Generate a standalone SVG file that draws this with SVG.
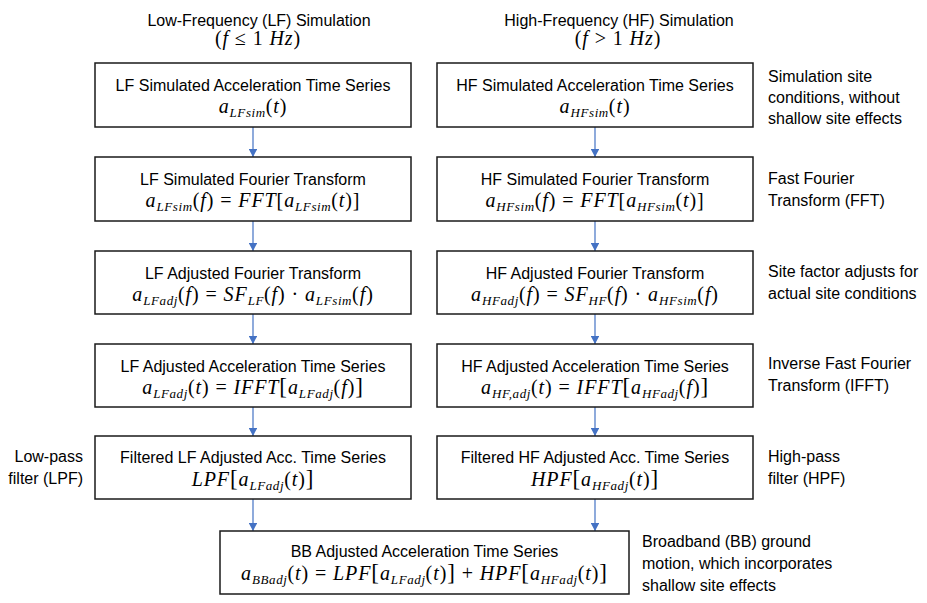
<svg xmlns="http://www.w3.org/2000/svg" width="927" height="603" viewBox="0 0 927 603">
<style>
.t{font-family:"Liberation Sans",Arial,sans-serif;font-size:16px;fill:#000}
.m{font-family:"Liberation Serif","Times New Roman",serif;font-size:20px;font-style:italic;letter-spacing:0.9px;fill:#000}
.u{font-style:normal}
.s{font-size:13px;letter-spacing:0.6px}
.b{font-size:23px;font-style:normal}
.box{fill:#fff;stroke:#1a1a1a;stroke-width:1.5}
.c{stroke:#4472C4;stroke-width:1.2;fill:none;marker-end:url(#ah)}
</style>
<defs>
<marker id="ah" viewBox="0 0 10 10" refX="10" refY="5" markerWidth="8" markerHeight="8.5" markerUnits="userSpaceOnUse" orient="auto" preserveAspectRatio="none">
<path d="M0,0 L10,5 L0,10 Z" fill="#4472C4"/>
</marker>
</defs>
<rect width="927" height="603" fill="#fff"/>

<g id="headers">
<text class="t" x="259" y="26" text-anchor="middle">Low-Frequency (LF) Simulation</text>
<text class="m" x="258" y="45" text-anchor="middle"><tspan class="u">(</tspan>f<tspan class="u"> ≤ 1 </tspan>Hz<tspan class="u">)</tspan></text>
<text class="t" x="619" y="26" text-anchor="middle">High-Frequency (HF) Simulation</text>
<text class="m" x="618" y="45" text-anchor="middle"><tspan class="u">(</tspan>f<tspan class="u"> &gt; 1 </tspan>Hz<tspan class="u">)</tspan></text>
</g>

<g id="connectors">
<line class="c" x1="253" y1="127" x2="253" y2="157"/>
<line class="c" x1="253" y1="221" x2="253" y2="251"/>
<line class="c" x1="253" y1="314" x2="253" y2="344"/>
<line class="c" x1="253" y1="407" x2="253" y2="436"/>
<line class="c" x1="253" y1="499" x2="253" y2="531"/>
<line class="c" x1="595" y1="127" x2="595" y2="157"/>
<line class="c" x1="595" y1="221" x2="595" y2="251"/>
<line class="c" x1="595" y1="314" x2="595" y2="344"/>
<line class="c" x1="595" y1="407" x2="595" y2="436"/>
<line class="c" x1="595" y1="499" x2="595" y2="531"/>
</g>

<g id="lf1">
<rect class="box" x="95" y="63" width="316" height="64"/>
<text class="t" x="253" y="91" text-anchor="middle">LF Simulated Acceleration Time Series</text>
<text class="m" x="253" y="113" text-anchor="middle">a<tspan class="s" dy="4">LFsim</tspan><tspan class="u" dy="-4">(</tspan>t<tspan class="u">)</tspan></text>
</g>
<g id="lf2">
<rect class="box" x="95" y="157" width="316" height="64"/>
<text class="t" x="253" y="185" text-anchor="middle">LF Simulated Fourier Transform</text>
<text class="m" x="253" y="207" text-anchor="middle">a<tspan class="s" dy="4">LFsim</tspan><tspan class="u" dy="-4">(</tspan>f<tspan class="u">) = </tspan>FFT<tspan class="u">[</tspan>a<tspan class="s" dy="4">LFsim</tspan><tspan class="u" dy="-4">(</tspan>t<tspan class="u">)]</tspan></text>
</g>
<g id="lf3">
<rect class="box" x="95" y="251" width="316" height="63"/>
<text class="t" x="253" y="279" text-anchor="middle">LF Adjusted Fourier Transform</text>
<text class="m" x="253" y="301" text-anchor="middle">a<tspan class="s" dy="4">LFadj</tspan><tspan class="u" dy="-4">(</tspan>f<tspan class="u">) =  </tspan>SF<tspan class="s" dy="4">LF</tspan><tspan class="u" dy="-4">(</tspan>f<tspan class="u">) · </tspan>a<tspan class="s" dy="4">LFsim</tspan><tspan class="u" dy="-4">(</tspan>f<tspan class="u">)</tspan></text>
</g>
<g id="lf4">
<rect class="box" x="95" y="344" width="316" height="63"/>
<text class="t" x="253" y="372" text-anchor="middle">LF Adjusted Acceleration Time Series</text>
<text class="m" x="253" y="394" text-anchor="middle">a<tspan class="s" dy="4">LFadj</tspan><tspan class="u" dy="-4">(</tspan>t<tspan class="u">) = </tspan>IFFT<tspan class="b">[</tspan>a<tspan class="s" dy="4">LFadj</tspan><tspan class="u" dy="-4">(</tspan>f<tspan class="u">)</tspan><tspan class="b">]</tspan></text>
</g>
<g id="lf5">
<rect class="box" x="95" y="436" width="316" height="63"/>
<text class="t" x="253" y="463" text-anchor="middle">Filtered LF Adjusted Acc. Time Series</text>
<text class="m" x="253" y="486" text-anchor="middle">LPF<tspan class="b">[</tspan>a<tspan class="s" dy="4">LFadj</tspan><tspan class="u" dy="-4">(</tspan>t<tspan class="u">)</tspan><tspan class="b">]</tspan></text>
</g>

<g id="hf1">
<rect class="box" x="437" y="63" width="316" height="64"/>
<text class="t" x="595" y="91" text-anchor="middle">HF Simulated Acceleration Time Series</text>
<text class="m" x="595" y="113" text-anchor="middle">a<tspan class="s" dy="4">HFsim</tspan><tspan class="u" dy="-4">(</tspan>t<tspan class="u">)</tspan></text>
</g>
<g id="hf2">
<rect class="box" x="437" y="157" width="316" height="64"/>
<text class="t" x="595" y="185" text-anchor="middle">HF Simulated Fourier Transform</text>
<text class="m" x="595" y="207" text-anchor="middle">a<tspan class="s" dy="4">HFsim</tspan><tspan class="u" dy="-4">(</tspan>f<tspan class="u">) = </tspan>FFT<tspan class="u">[</tspan>a<tspan class="s" dy="4">HFsim</tspan><tspan class="u" dy="-4">(</tspan>t<tspan class="u">)]</tspan></text>
</g>
<g id="hf3">
<rect class="box" x="437" y="251" width="316" height="63"/>
<text class="t" x="595" y="279" text-anchor="middle">HF Adjusted Fourier Transform</text>
<text class="m" x="595" y="301" text-anchor="middle">a<tspan class="s" dy="4">HFadj</tspan><tspan class="u" dy="-4">(</tspan>f<tspan class="u">) =  </tspan>SF<tspan class="s" dy="4">HF</tspan><tspan class="u" dy="-4">(</tspan>f<tspan class="u">) · </tspan>a<tspan class="s" dy="4">HFsim</tspan><tspan class="u" dy="-4">(</tspan>f<tspan class="u">)</tspan></text>
</g>
<g id="hf4">
<rect class="box" x="437" y="344" width="316" height="63"/>
<text class="t" x="595" y="372" text-anchor="middle">HF Adjusted Acceleration Time Series</text>
<text class="m" x="595" y="394" text-anchor="middle">a<tspan class="s" dy="4">HF,adj</tspan><tspan class="u" dy="-4">(</tspan>t<tspan class="u">) = </tspan>IFFT<tspan class="b">[</tspan>a<tspan class="s" dy="4">HFadj</tspan><tspan class="u" dy="-4">(</tspan>f<tspan class="u">)</tspan><tspan class="b">]</tspan></text>
</g>
<g id="hf5">
<rect class="box" x="437" y="436" width="316" height="63"/>
<text class="t" x="595" y="463" text-anchor="middle">Filtered HF Adjusted Acc. Time Series</text>
<text class="m" x="595" y="486" text-anchor="middle">HPF<tspan class="b">[</tspan>a<tspan class="s" dy="4">HFadj</tspan><tspan class="u" dy="-4">(</tspan>t<tspan class="u">)</tspan><tspan class="b">]</tspan></text>
</g>

<g id="bb">
<rect class="box" x="220" y="531" width="409" height="63"/>
<text class="t" x="424.5" y="557" text-anchor="middle">BB Adjusted Acceleration Time Series</text>
<text class="m" x="424.5" y="580" text-anchor="middle">a<tspan class="s" dy="4">BBadj</tspan><tspan class="u" dy="-4">(</tspan>t<tspan class="u">) = </tspan>LPF<tspan class="b">[</tspan>a<tspan class="s" dy="4">LFadj</tspan><tspan class="u" dy="-4">(</tspan>t<tspan class="u">)</tspan><tspan class="b">]</tspan><tspan class="u"> + </tspan>HPF<tspan class="b">[</tspan>a<tspan class="s" dy="4">HFadj</tspan><tspan class="u" dy="-4">(</tspan>t<tspan class="u">)</tspan><tspan class="b">]</tspan></text>
</g>

<g id="notes">
<text class="t" x="768" y="82">Simulation site</text>
<text class="t" x="768" y="103">conditions, without</text>
<text class="t" x="768" y="124">shallow site effects</text>
<text class="t" x="768" y="184">Fast Fourier</text>
<text class="t" x="768" y="206">Transform (FFT)</text>
<text class="t" x="768" y="277">Site factor adjusts for</text>
<text class="t" x="768" y="299">actual site conditions</text>
<text class="t" x="768" y="369">Inverse Fast Fourier</text>
<text class="t" x="768" y="391">Transform (IFFT)</text>
<text class="t" x="768" y="462">High-pass</text>
<text class="t" x="768" y="484">filter (HPF)</text>
<text class="t" x="83" y="462" text-anchor="end">Low-pass</text>
<text class="t" x="83" y="484" text-anchor="end">filter (LPF)</text>
<text class="t" x="642" y="547">Broadband (BB) ground</text>
<text class="t" x="642" y="569">motion, which incorporates</text>
<text class="t" x="642" y="591">shallow site effects</text>
</g>
</svg>
